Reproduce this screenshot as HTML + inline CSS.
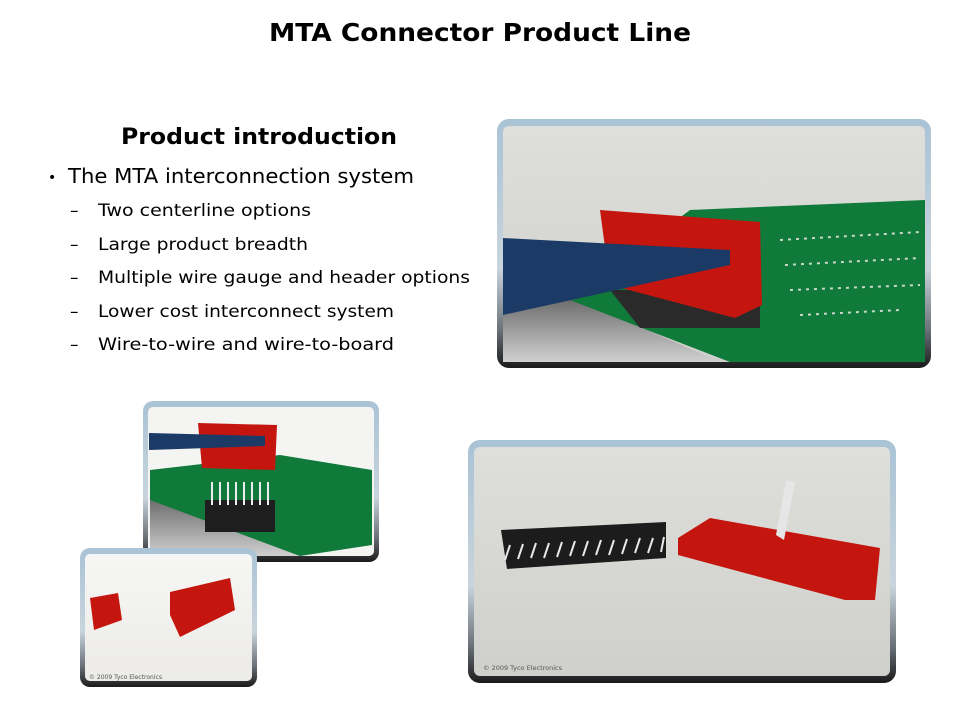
<!DOCTYPE html>
<html><head><meta charset="utf-8"><style>
html,body{margin:0;padding:0;background:#fff;}
svg{display:block;}
text{font-family:"DejaVu Sans","Liberation Sans",sans-serif;fill:#000;}
</style></head><body>
<svg width="960" height="720" viewBox="0 0 960 720" xmlns="http://www.w3.org/2000/svg">
<defs>
<linearGradient id="fr" x1="0" y1="0" x2="0" y2="1">
<stop offset="0" stop-color="#a9c3d6"/><stop offset="0.6" stop-color="#c9d4dc"/><stop offset="0.85" stop-color="#6a7078"/><stop offset="1" stop-color="#1a1a1a"/>
</linearGradient>
<linearGradient id="bg1" x1="0" y1="0" x2="0" y2="1">
<stop offset="0" stop-color="#dedfdb"/><stop offset="1" stop-color="#cfd0cc"/>
</linearGradient>
<linearGradient id="bg2" x1="0" y1="0" x2="0" y2="1">
<stop offset="0" stop-color="#f6f6f4"/><stop offset="1" stop-color="#ecebe8"/>
</linearGradient>
<linearGradient id="sh" x1="0" y1="0" x2="0" y2="1">
<stop offset="0" stop-color="#6e6e6e"/><stop offset="1" stop-color="#d0d0d0"/>
</linearGradient>
</defs>

<text x="480" y="41" text-anchor="middle" font-weight="bold" font-size="25" textLength="422" lengthAdjust="spacingAndGlyphs">MTA Connector Product Line</text>
<text x="259" y="144" text-anchor="middle" font-weight="bold" font-size="22" textLength="276" lengthAdjust="spacingAndGlyphs">Product introduction</text>
<text x="48" y="182" font-size="14">•</text>
<text x="68" y="183" font-size="20" textLength="346" lengthAdjust="spacingAndGlyphs">The MTA interconnection system</text>
<g font-size="17">
<text x="70" y="216">–</text><text x="98" y="216" textLength="213" lengthAdjust="spacingAndGlyphs">Two centerline options</text>
<text x="70" y="250">–</text><text x="98" y="250" textLength="210" lengthAdjust="spacingAndGlyphs">Large product breadth</text>
<text x="70" y="283">–</text><text x="98" y="283" textLength="372" lengthAdjust="spacingAndGlyphs">Multiple wire gauge and header options</text>
<text x="70" y="317">–</text><text x="98" y="317" textLength="296" lengthAdjust="spacingAndGlyphs">Lower cost interconnect system</text>
<text x="70" y="350">–</text><text x="98" y="350" textLength="296" lengthAdjust="spacingAndGlyphs">Wire-to-wire and wire-to-board</text>
</g>

<!-- top right image -->
<rect x="497" y="119" width="434" height="249" rx="12" fill="url(#fr)"/>
<rect x="503" y="126" width="422" height="236" rx="6" fill="url(#bg1)"/>
<polygon points="503,300 580,300 720,362 503,362" fill="url(#sh)"/>
<polygon points="690,210 925,200 925,362 730,362 570,300" fill="#0f7a3a"/>
<polygon points="610,290 760,290 760,328 640,328" fill="#2a2a2a"/>
<polygon points="600,210 760,222 762,305 735,318 610,285" fill="#c4160f"/>
<polygon points="503,238 730,250 730,265 503,315" fill="#1b3a66"/>
<g stroke="#c8d8c8" stroke-width="2" stroke-dasharray="3 5" fill="none">
<line x1="780" y1="240" x2="920" y2="232"/><line x1="785" y1="265" x2="920" y2="258"/><line x1="790" y1="290" x2="920" y2="285"/><line x1="800" y1="315" x2="900" y2="310"/>
</g>

<!-- bottom left upper image -->
<rect x="143" y="401" width="236" height="161" rx="10" fill="url(#fr)"/>
<rect x="148" y="407" width="226" height="149" rx="5" fill="#f4f4f2"/>
<polygon points="150,500 230,520 300,556 150,556" fill="url(#sh)"/>
<polygon points="150,470 280,455 372,470 372,545 300,556 150,500" fill="#0f7a3a"/>
<rect x="205" y="500" width="70" height="32" fill="#1e1e1e"/>
<g stroke="#eee" stroke-width="2"><line x1="212" y1="482" x2="212" y2="505"/><line x1="220" y1="482" x2="220" y2="505"/><line x1="228" y1="482" x2="228" y2="505"/><line x1="236" y1="482" x2="236" y2="505"/><line x1="244" y1="482" x2="244" y2="505"/><line x1="252" y1="482" x2="252" y2="505"/><line x1="260" y1="482" x2="260" y2="505"/><line x1="268" y1="482" x2="268" y2="505"/></g>
<polygon points="198,423 277,425 275,470 202,468" fill="#c4160f"/>
<polygon points="149,433 265,436 265,446 149,450" fill="#1b3a66"/>
<text x="152" y="553" font-size="6" style="fill:#555">© 2009 Tyco Electronics</text>

<!-- bottom left lower image -->
<rect x="80" y="548" width="177" height="139" rx="10" fill="url(#fr)"/>
<rect x="85" y="554" width="167" height="127" rx="5" fill="url(#bg2)"/>
<polygon points="90,598 118,593 122,620 94,630" fill="#c4160f"/>
<polygon points="170,592 230,578 235,610 180,637 170,615" fill="#c4160f"/>
<text x="89" y="679" font-size="6" style="fill:#555">© 2009 Tyco Electronics</text>

<!-- bottom right image -->
<rect x="468" y="440" width="428" height="243" rx="12" fill="url(#fr)"/>
<rect x="474" y="447" width="416" height="229" rx="6" fill="url(#bg1)"/>
<polygon points="501,530 666,522 666,558 507,569" fill="#1c1c1c"/>
<g stroke="#e8e8e8" stroke-width="2"><line x1="505" y1="560" x2="510" y2="545"/><line x1="518" y1="559" x2="523" y2="544"/><line x1="531" y1="558" x2="536" y2="543"/><line x1="544" y1="558" x2="549" y2="543"/><line x1="557" y1="557" x2="562" y2="542"/><line x1="570" y1="556" x2="575" y2="541"/><line x1="583" y1="556" x2="588" y2="541"/><line x1="596" y1="555" x2="601" y2="540"/><line x1="609" y1="555" x2="614" y2="540"/><line x1="622" y1="554" x2="627" y2="539"/><line x1="635" y1="553" x2="640" y2="538"/><line x1="648" y1="553" x2="653" y2="538"/><line x1="661" y1="552" x2="664" y2="537"/></g>
<polygon points="678,538 710,518 880,548 875,600 845,600 678,555" fill="#c4160f"/>
<polygon points="776,535 786,480 795,482 784,540" fill="#e6e6e6"/>
<text x="483" y="670" font-size="6.5" style="fill:#555">© 2009 Tyco Electronics</text>
</svg>
</body></html>
